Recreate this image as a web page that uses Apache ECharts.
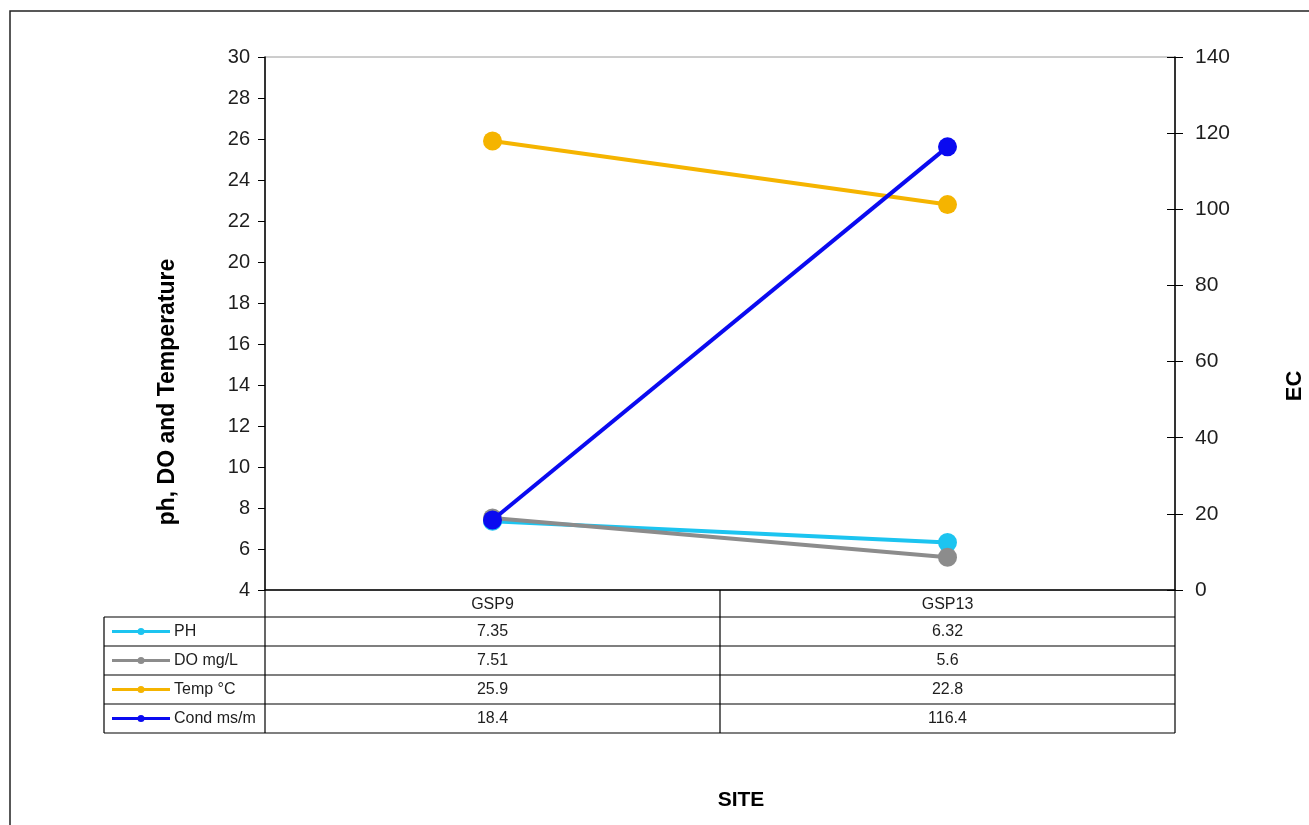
<!DOCTYPE html>
<html>
<head>
<meta charset="utf-8">
<script src="https://cdn.jsdelivr.net/npm/echarts@6/dist/echarts.min.js"></script>
<style>
  html, body { margin: 0; padding: 0; background: #fff; }
  #chart { width: 1309px; height: 825px; }
</style>
</head>
<body>
<div id="chart"></div>
<script>
// Sites and measured water-quality parameters
const categories = ['GSP9', 'GSP13'];
const seriesNames = ['PH', 'DO mg/L', 'Temp °C', 'Cond ms/m'];
const phValues = [7.35, 6.32];
const doValues = [7.51, 5.6];
const tempValues = [25.9, 22.8];
const condValues = [18.4, 116.4];
const tableLabels = [['7.35', '6.32'], ['7.51', '5.6'], ['25.9', '22.8'], ['18.4', '116.4']];

// Axis scales: [min, max, interval]
const leftAxisScale = [4, 30, 2];
const rightAxisScale = [0, 140, 20];
const leftAxisTitle = 'ph, DO and Temperature';
const rightAxisTitle = 'EC';
const categoryTitle = 'SITE';

const seriesValues = [phValues, doValues, tempValues, condValues];
const seriesAxisIndex = [0, 0, 0, 1];
const seriesColors = ['#1CC4F0', '#8C8C8C', '#F5B400', '#0A0AF0'];
const FONT = '"Liberation Sans", Arial, sans-serif';
const TEXT = '#1e1e1e';

const chart = echarts.init(document.getElementById('chart'), null, { renderer: 'canvas' });

const option = {
  animation: false,
  backgroundColor: '#fff',
  grid: { left: 265, right: 134, top: 57, bottom: 235, show: true, borderColor: '#9a9a9a', borderWidth: 1 },
  xAxis: {
    type: 'category',
    data: categories,
    boundaryGap: true,
    axisLine: { lineStyle: { color: '#000', width: 1.5 } },
    axisTick: { show: false },
    axisLabel: { margin: 7, fontSize: 16, color: TEXT, fontFamily: FONT },
    splitLine: { show: false }
  },
  yAxis: [
    {
      type: 'value', position: 'left',
      min: leftAxisScale[0], max: leftAxisScale[1], interval: leftAxisScale[2],
      axisLine: { show: true, lineStyle: { color: '#000', width: 1.5 } },
      axisTick: { show: true, length: 7, lineStyle: { color: '#000', width: 1 } },
      axisLabel: { margin: 15, fontSize: 20, color: TEXT, fontFamily: FONT },
      splitLine: { show: false }
    },
    {
      type: 'value', position: 'right',
      min: rightAxisScale[0], max: rightAxisScale[1], interval: rightAxisScale[2],
      axisLine: { show: true, lineStyle: { color: '#000', width: 1.5 } },
      axisTick: { show: true, length: 8, lineStyle: { color: '#000', width: 1 } },
      axisLabel: { margin: 20, fontSize: 21, color: TEXT, fontFamily: FONT },
      splitLine: { show: false }
    },
    {
      // inner half of the crossing ticks on the right axis
      type: 'value', position: 'right',
      min: rightAxisScale[0], max: rightAxisScale[1], interval: rightAxisScale[2],
      axisLine: { show: false },
      axisTick: { show: true, inside: true, length: 8, lineStyle: { color: '#000', width: 1 } },
      axisLabel: { show: false },
      splitLine: { show: false }
    }
  ],
  series: seriesNames.map((name, i) => ({
    type: 'line',
    name: name,
    data: seriesValues[i],
    yAxisIndex: seriesAxisIndex[i],
    symbol: 'circle',
    symbolSize: 19,
    z: 2 + i,
    lineStyle: { color: seriesColors[i], width: 4 },
    itemStyle: { color: seriesColors[i] }
  }))
};

chart.setOption(option);

// Data table under the plot, titles and outer frame
function buildGraphics() {
  const c0 = chart.convertToPixel({ xAxisIndex: 0 }, categories[0]);
  const c1 = chart.convertToPixel({ xAxisIndex: 0 }, categories[1]);
  const colW = c1 - c0;
  const left = c0 - colW / 2;
  const right = c1 + colW / 2;
  const mid = (c0 + c1) / 2;
  const top = chart.convertToPixel({ yAxisIndex: 0 }, leftAxisScale[0]);
  const headerH = 27;
  const rowH = 29;
  const keyLeft = 104;
  const rowsTop = top + headerH;
  const tableBottom = rowsTop + rowH * seriesNames.length;
  const line = (x1, y1, x2, y2, w) => ({
    type: 'line', silent: true,
    shape: { x1: x1, y1: y1, x2: x2, y2: y2 },
    style: { stroke: '#000', lineWidth: w || 1.2 }
  });
  const els = [];

  els.push({
    type: 'rect', silent: true,
    shape: { x: 10, y: 11, width: 1400, height: 900 },
    style: { fill: null, stroke: '#222', lineWidth: 1.5 }
  });

  els.push(line(left, top, left, tableBottom));
  els.push(line(mid, top, mid, tableBottom));
  els.push(line(right, top, right, tableBottom));
  els.push(line(keyLeft, rowsTop, keyLeft, tableBottom));
  for (let r = 0; r <= seriesNames.length; r++) {
    const y = rowsTop + r * rowH;
    els.push(line(keyLeft, y, right, y));
  }

  seriesNames.forEach((name, i) => {
    const cy = rowsTop + rowH * i + rowH / 2;
    els.push({
      type: 'line', silent: true,
      shape: { x1: keyLeft + 8, y1: cy, x2: keyLeft + 66, y2: cy },
      style: { stroke: seriesColors[i], lineWidth: 3 }
    });
    els.push({
      type: 'circle', silent: true,
      shape: { cx: keyLeft + 37, cy: cy, r: 3.5 },
      style: { fill: seriesColors[i] }
    });
    els.push({
      type: 'text', silent: true,
      x: keyLeft + 70, y: cy,
      style: { text: name, font: '16px ' + FONT, fill: TEXT, textAlign: 'left', textVerticalAlign: 'middle' }
    });
    [c0, c1].forEach((cx, j) => {
      els.push({
        type: 'text', silent: true,
        x: cx, y: cy,
        style: { text: tableLabels[i][j], font: '16px ' + FONT, fill: TEXT, textAlign: 'center', textVerticalAlign: 'middle' }
      });
    });
  });

  els.push({
    type: 'text', silent: true, x: 168, y: 392, rotation: Math.PI / 2,
    style: { text: leftAxisTitle, font: 'bold 23px ' + FONT, fill: '#000', textAlign: 'center', textVerticalAlign: 'middle' }
  });
  els.push({
    type: 'text', silent: true, x: 1295, y: 386, rotation: Math.PI / 2,
    style: { text: rightAxisTitle, font: 'bold 22px ' + FONT, fill: '#000', textAlign: 'center', textVerticalAlign: 'middle' }
  });
  els.push({
    type: 'text', silent: true, x: 741, y: 800,
    style: { text: categoryTitle, font: 'bold 21px ' + FONT, fill: '#000', textAlign: 'center', textVerticalAlign: 'middle' }
  });

  chart.setOption({ graphic: { elements: els } });
}

buildGraphics();
</script>
</body>
</html>
